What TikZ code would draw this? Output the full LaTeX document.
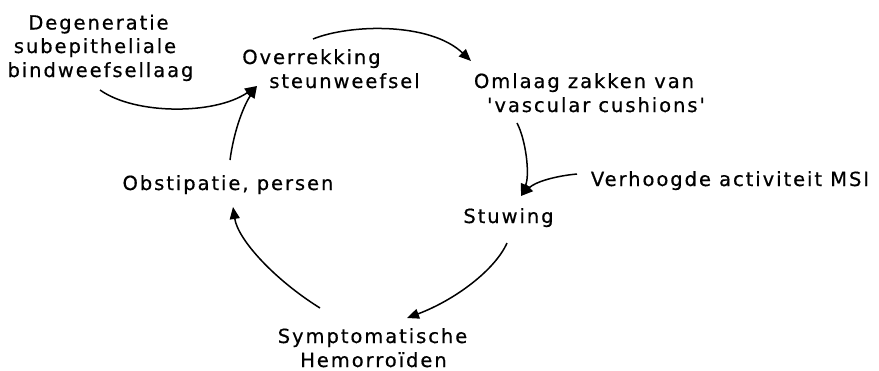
\documentclass[tikz,border=0pt]{standalone}
\usepackage{fontspec}
\setmainfont{DejaVu Sans}[LetterSpace=10, Ligatures=TeXOff, FakeBold=0.6]
\usetikzlibrary{arrows.meta}
\tikzset{
  lbl/.style={anchor=base, inner sep=0pt, font=\fontsize{19.5pt}{24pt}\selectfont},
  conn/.style={line width=1.5pt, -{Triangle[length=12pt,width=10pt]}}
}
\begin{document}
\begin{tikzpicture}[x=1pt,y=-1pt]
\useasboundingbox (0,0) rectangle (879,370);
% texts
\node[lbl] (deg1) at (98.5,29.5) {Degeneratie};
\node[lbl] (deg2) at (95,53) {subepitheliale};
\node[lbl] (deg3) at (100.5,77) {bindweefsellaag};
\node[lbl] (over1) at (311.5,64) {Overrekking};
\node[lbl] (over2) at (344.5,88) {steunweefsel};
\node[lbl] (oml1) at (584,88) {Omlaag zakken van};
\node[lbl] (oml2) at (596,112) {'vascular cushions'};
\node[lbl] (msi) at (730,186) {Verhoogde activiteit MSI};
\node[lbl] (stuw) at (508.5,223) {Stuwing};
\node[lbl] (obst) at (228,190) {Obstipatie, persen};
\node[lbl] (symp1) at (372.5,343) {Symptomatische};
\node[lbl] (symp2) at (373.5,367) {Hemorroïden};
% connector end points
\coordinate (degS) at (100,90);
\coordinate (overT) at (257,86);
\coordinate (obstS) at (230,160);
\coordinate (overS) at (313,39);
\coordinate (omlT) at (471,61);
\coordinate (omlS) at (517,123);
\coordinate (stuwT) at (521,196);
\coordinate (msiS) at (577,174);
\coordinate (stuwS) at (507,243);
\coordinate (sympT) at (407,318);
\coordinate (sympS) at (320,308);
\coordinate (obstT) at (233,207);
% connectors
\draw[conn] (degS) .. controls (135,115) and (215,115) .. (overT);
\draw[conn] (obstS) .. controls (234,130) and (244,105) .. (overT);
\draw[conn] (overS) .. controls (350,24) and (430,22) .. (omlT);
\draw[conn] (omlS) .. controls (526,140) and (530,175) .. (stuwT);
\draw[conn] (msiS) .. controls (555,176) and (535,182) .. (stuwT);
\draw[conn] (stuwS) .. controls (495,270) and (455,300) .. (sympT);
\draw[conn] (sympS) .. controls (275,280) and (238,240) .. (obstT);
\end{tikzpicture}
\end{document}
